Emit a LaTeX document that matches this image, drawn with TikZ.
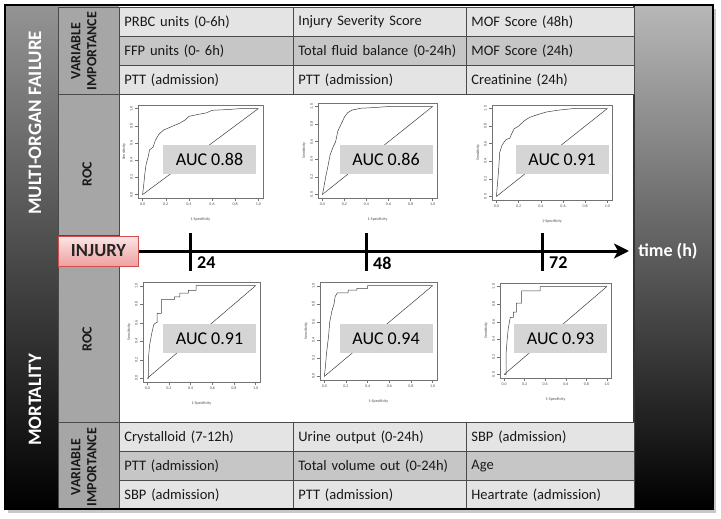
\documentclass[tikz,border=0pt]{standalone}
\usepackage{fontspec}
\setmainfont{Carlito}
\usepackage{tikz}
\usetikzlibrary{positioning}
\usetikzlibrary{arrows.meta}
\pgfdeclarelayer{background}
\pgfdeclarelayer{foreground}
\pgfsetlayers{background,main,foreground}

\definecolor{rowlight}{HTML}{E4E4E4}
\definecolor{rowdark}{HTML}{C6C6C6}
\definecolor{sidegrey}{HTML}{A6A6A6}
\definecolor{cellline}{HTML}{4A4A4A}
\definecolor{aucgrey}{HTML}{D5D5D5}
\definecolor{injurytop}{HTML}{FCE6E6}
\definecolor{injurybot}{HTML}{F0A0A0}
\definecolor{injuryline}{HTML}{D05050}

\tikzset{
	rocframe/.style={draw=black!55, line width=0.4pt},
	rocline/.style={draw=black!75, line width=0.5pt},
	rocnum/.style={inner sep=0pt, text=black!70, font=\fontsize{4}{4}\selectfont},
}

% one ROC panel: name, data origin, x unit, y unit, curve
\newcommand{\rocplot}[5]{%
	\begin{scope}[shift={(#2)}, x=#3pt, y=#4pt]
		\draw[rocframe] (-0.04,-0.04) rectangle (1.04,1.04);
		\draw[rocline] (0,0) -- (1,1);
		\draw[rocline] plot coordinates {#5};
		\foreach \t/\lbl [count=\i] in {0/0.0,0.2/0.2,0.4/0.4,0.6/0.6,0.8/0.8,1/1.0}{
			\draw[rocframe] (\t,-0.04) -- ++(0,-2.5pt);
			\draw[rocframe] (-0.04,\t) -- ++(-2.5pt,0);
			\node[rocnum, anchor=north] (#1x\i) at ([yshift=-5pt]\t,-0.04) {\lbl};
			\node[rocnum, anchor=south, rotate=90] (#1y\i) at ([xshift=-5pt]-0.04,\t) {\lbl};
		}
		\node[rocnum] (#1xl) at ([yshift=-21pt]0.5,-0.04) {1-Specificity};
		\node[rocnum, rotate=90] (#1yl) at ([xshift=-14pt]-0.04,0.5) {Sensitivity};
	\end{scope}}

\begin{document}
\begin{tikzpicture}[x=1pt, y=-1pt,
	cell/.style={draw=cellline, line width=0.8pt, anchor=north west, minimum height=29pt, inner xsep=5pt, inner ysep=0pt, text width=#1, align=left, text=black!90, font=\fontsize{14.5}{16}\selectfont},
	sidelabel/.style={rotate=90, align=center, inner sep=0pt, text=black!90, font=\bfseries\fontsize{14}{16}\selectfont},
	bandlabel/.style={rotate=90, inner sep=0pt, text=white, font=\bfseries\fontsize{19}{21}\selectfont},
	aucbox/.style={fill=aucgrey, minimum width=93pt, minimum height=29pt, inner sep=0pt, font=\fontsize{18}{20}\selectfont},
	hourlabel/.style={anchor=west, inner sep=0pt, font=\bfseries\fontsize{18}{20}\selectfont},
	timeline/.style={line width=3pt, -{Stealth[length=15pt, width=15pt, inset=4pt]}},
	]
	\useasboundingbox (0,0) rectangle (721,519);

	\begin{pgfonlayer}{background}
	%Bands
	\fill[white] (0,0) rectangle (721,519);
	\fill[black!22] (8,9) rectangle (716,513);
	\shade[top color=black!42, bottom color=black] (5,5) rectangle (58,509);
	\shade[top color=black!28, bottom color=black] (634,5) rectangle (713,509);
	\fill[sidegrey] (58,5) rectangle (119,509);
	\fill[white] (119,94) rectangle (634,422);
	\draw[cellline, line width=0.8pt] (58,7) rectangle (119,94);
	\draw[cellline, line width=0.8pt] (58,94) rectangle (119,235);
	\draw[cellline, line width=0.8pt] (58,265) rectangle (119,422);
	\draw[cellline, line width=0.8pt] (58,422) rectangle (119,509);
	\draw[black!80, line width=1.2pt] (634,5) -- (634,509);
	\end{pgfonlayer}

	%Multi-organ failure table
	\node[cell=164pt, fill=rowlight] (mof11) at (119,7) {PRBC units (0-6h)};
	\node[cell=163pt, fill=rowlight] (mof12) at (293,7) {Injury Severity Score};
	\node[cell=158pt, fill=rowlight] (mof13) at (466,7) {MOF Score (48h)};
	\node[cell=164pt, fill=rowdark]  (mof21) at (119,36) {FFP units (0- 6h)};
	\node[cell=163pt, fill=rowdark]  (mof22) at (293,36) {Total fluid balance (0-24h)};
	\node[cell=158pt, fill=rowdark]  (mof23) at (466,36) {MOF Score (24h)};
	\node[cell=164pt, fill=rowlight] (mof31) at (119,65) {PTT (admission)};
	\node[cell=163pt, fill=rowlight] (mof32) at (293,65) {PTT (admission)};
	\node[cell=158pt, fill=rowlight] (mof33) at (466,65) {Creatinine (24h)};

	%Mortality table
	\node[cell=164pt, fill=rowlight] (mor11) at (119,422) {Crystalloid (7-12h)};
	\node[cell=163pt, fill=rowlight] (mor12) at (293,422) {Urine output (0-24h)};
	\node[cell=158pt, fill=rowlight] (mor13) at (466,422) {SBP (admission)};
	\node[cell=164pt, fill=rowdark]  (mor21) at (119,451) {PTT (admission)};
	\node[cell=163pt, fill=rowdark]  (mor22) at (293,451) {Total volume out (0-24h)};
	\node[cell=158pt, fill=rowdark]  (mor23) at (466,451) {Age};
	\node[cell=164pt, fill=rowlight] (mor31) at (119,480) {SBP (admission)};
	\node[cell=163pt, fill=rowlight] (mor32) at (293,480) {PTT (admission)};
	\node[cell=158pt, fill=rowlight] (mor33) at (466,480) {Heartrate (admission)};

	%Side labels
	\node[bandlabel] (mof) at (35,123) {MULTI-ORGAN FAILURE};
	\node[bandlabel] (mort) at (35,400) {MORTALITY};
	\node[sidelabel] (vitop) at (84,51) {VARIABLE\\IMPORTANCE};
	\node[sidelabel] (roctop) at (87,174) {ROC};
	\node[sidelabel] (rocbot) at (87,339) {ROC};
	\node[sidelabel] (vibot) at (84,467) {VARIABLE\\IMPORTANCE};

	%ROC panels
	\rocplot{ra}{142.6,194.6}{115.7}{86}{(0,0) (0.01,0.12) (0.02,0.25) (0.03,0.35) (0.05,0.45) (0.06,0.52) (0.09,0.55) (0.11,0.63) (0.14,0.7) (0.18,0.75) (0.25,0.79) (0.32,0.83) (0.37,0.87) (0.4,0.91) (0.47,0.93) (0.55,0.95) (0.6,0.98) (0.75,0.99) (0.85,1) (1,1)}
	\rocplot{rb}{322.4,194.5}{110.2}{88}{(0,0) (0.01,0.06) (0.03,0.2) (0.05,0.32) (0.07,0.45) (0.1,0.55) (0.12,0.6) (0.14,0.72) (0.17,0.8) (0.2,0.88) (0.23,0.93) (0.27,0.96) (0.35,0.98) (0.5,0.99) (0.6,1) (1,1)}
	\rocplot{rc}{496.4,196.5}{111}{88}{(0,0) (0.01,0.15) (0.02,0.3) (0.03,0.5) (0.05,0.58) (0.07,0.62) (0.09,0.65) (0.12,0.66) (0.14,0.72) (0.16,0.77) (0.2,0.8) (0.25,0.86) (0.3,0.9) (0.37,0.93) (0.45,0.96) (0.55,0.98) (0.7,1) (1,1)}
	\rocplot{rd}{147.3,378.3}{108.3}{92.6}{(0,0) (0.01,0) (0.01,0.2) (0.02,0.35) (0.04,0.48) (0.06,0.58) (0.08,0.6) (0.09,0.6) (0.09,0.7) (0.13,0.7) (0.13,0.85) (0.25,0.85) (0.25,0.88) (0.3,0.88) (0.3,0.92) (0.38,0.92) (0.38,0.95) (0.45,0.95) (0.45,1) (1,1)}
	\rocplot{re}{324.3,376.4}{108.3}{90.7}{(0,0) (0.01,0.1) (0.02,0.25) (0.04,0.45) (0.05,0.6) (0.07,0.72) (0.09,0.8) (0.1,0.88) (0.12,0.92) (0.22,0.92) (0.22,0.95) (0.3,0.95) (0.3,0.97) (0.4,0.97) (0.4,1) (1,1)}
	\rocplot{rf}{504.1,374.5}{102.8}{88}{(0,0) (0.02,0) (0.02,0.25) (0.03,0.4) (0.04,0.52) (0.06,0.65) (0.09,0.65) (0.09,0.71) (0.12,0.71) (0.12,0.81) (0.17,0.81) (0.17,0.95) (0.35,0.95) (0.35,1) (1,1)}

	%AUC boxes
	\node[aucbox] (auc1) at (209.5,159.5) {AUC 0.88};
	\node[aucbox] (auc2) at (386,159.5) {AUC 0.86};
	\node[aucbox] (auc3) at (562,159.5) {AUC 0.91};
	\node[aucbox] (auc4) at (209.5,338.5) {AUC 0.91};
	\node[aucbox] (auc5) at (386,338.5) {AUC 0.94};
	\node[aucbox] (auc6) at (560.5,338.5) {AUC 0.93};

	%Timeline
	\node[draw=injuryline, line width=0.8pt, top color=injurytop, bottom color=injurybot, minimum width=80pt, minimum height=30pt, inner sep=0pt, text=black!85, font=\bfseries\fontsize{18.5}{20}\selectfont] (injury) at (98.5,251) {INJURY};
	\coordinate (tip) at (629,251);
	\coordinate (t24a) at (190,233);
	\coordinate (t24b) at (190,271);
	\coordinate (t48a) at (366,233);
	\coordinate (t48b) at (366,271);
	\coordinate (t72a) at (542,233);
	\coordinate (t72b) at (542,271);
	\draw[timeline] (injury.east) -- (tip);
	\draw[line width=3pt] (t24a) -- (t24b);
	\draw[line width=3pt] (t48a) -- (t48b);
	\draw[line width=3pt] (t72a) -- (t72b);
	\node[hourlabel] (h24) at (197,263) {24};
	\node[hourlabel] (h48) at (373,263) {48};
	\node[hourlabel] (h72) at (549,263) {72};
	\node[inner sep=0pt, text=white, font=\bfseries\fontsize{18}{20}\selectfont] (time) at (668,251) {time (h)};

	\begin{pgfonlayer}{foreground}
	%Frame
	\draw[black, line width=2.5pt] (5,5) rectangle (713,509);
	\end{pgfonlayer}
\end{tikzpicture}
\end{document}
